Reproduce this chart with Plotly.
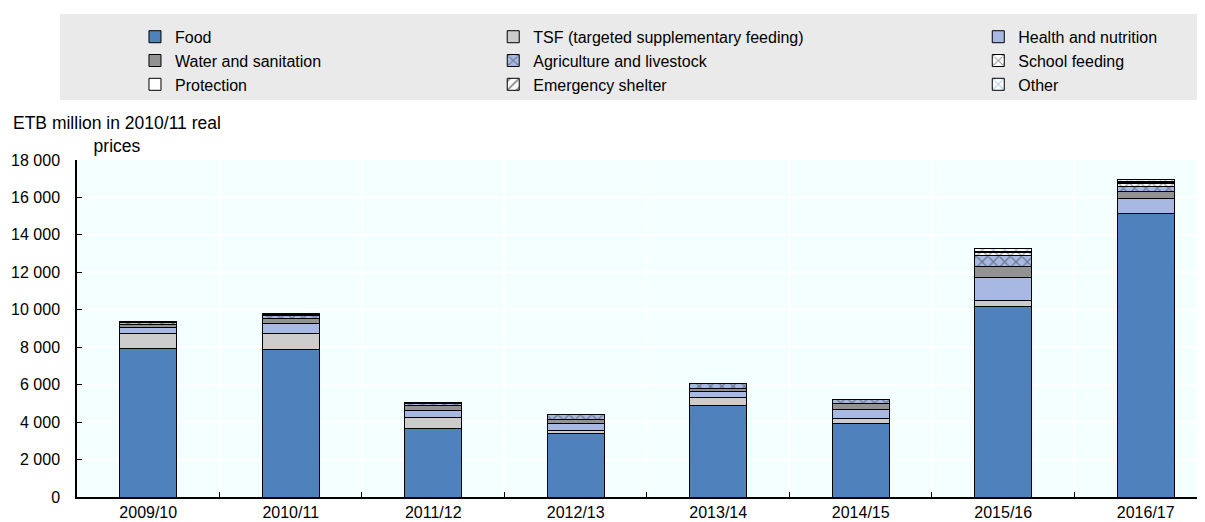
import plotly.graph_objects as go

years = ["2009/10", "2010/11", "2011/12", "2012/13", "2013/14", "2014/15", "2015/16", "2016/17"]
food = [7940, 7890, 3670, 3370, 4880, 3940, 10190, 15120]
tsf = [770, 855, 590, 200, 450, 270, 300, 40]
health = [355, 500, 350, 340, 300, 440, 1210, 760]
water = [150, 300, 270, 210, 180, 320, 620, 390]
agriculture = [100, 150, 100, 280, 230, 250, 600, 300]
school = [20, 40, 40, 0, 0, 0, 150, 160]
protection = [5, 10, 10, 0, 0, 0, 20, 30]
shelter = [5, 10, 20, 0, 0, 0, 30, 40]
other = [15, 20, 20, 30, 10, 10, 130, 130]

FONT = "Liberation Sans, Arial, sans-serif"

series = [
    ("Food", food, "#4F81BD", None, None, "legend"),
    ("TSF (targeted supplementary feeding)", tsf, "#CCCCCC", None, None, "legend2"),
    ("Health and nutrition", health, "#A7B9E3", None, None, "legend3"),
    ("Water and sanitation", water, "#929292", None, None, "legend"),
    ("Agriculture and livestock", agriculture, "#A7B9E3", "x", "#333333", "legend2"),
    ("School feeding", school, "#FFFFFF", "x", "#333333", "legend3"),
    ("Protection", protection, "#FFFFFF", None, None, "legend"),
    ("Emergency shelter", shelter, "#FFFFFF", "/", "#222222", "legend2"),
    ("Other", other, "#FFFFFF", "x", "#5B9BD5", "legend3"),
]

fig = go.Figure()
for name, vals, color, shape, fg, leg in series:
    marker = dict(color=color, line=dict(color="#000000", width=1))
    if shape:
        marker["pattern"] = dict(shape=shape, bgcolor=color, fgcolor=fg, size=8, solidity=0.3)
    fig.add_trace(go.Bar(x=years, y=vals, name=name, marker=marker, legend=leg))

# legend background band
fig.add_shape(type="rect", xref="paper", yref="paper", x0=-0.015, x1=1.0,
              y0=1.178, y1=1.433, fillcolor="#EAEAEA", line=dict(width=0), layer="below")

leg_common = dict(orientation="v", yanchor="top", y=1.416, xanchor="left",
                  bgcolor="rgba(0,0,0,0)", font=dict(family=FONT, size=16, color="#000000"),
                  traceorder="normal", itemwidth=30)
fig.update_layout(
    legend=dict(x=0.0514, **leg_common),
    legend2=dict(x=0.369, **leg_common),
    legend3=dict(x=0.799, **leg_common),
)

fig.add_annotation(text="ETB million in 2010/11 real<br>prices", xref="paper", yref="paper",
                   x=(117 - 77) / 1128, y=(497 - 134) / 337, xanchor="center", yanchor="middle",
                   showarrow=False, align="center", font=dict(family=FONT, size=17.5, color="#000000"))

fig.update_layout(
    width=1197, height=514,
    margin=dict(l=69, r=0, t=152, b=25),
    barmode="stack", bargap=0.6,
    paper_bgcolor="#FFFFFF", plot_bgcolor="#F4FFFF",
    separators=". ",
    font=dict(family=FONT, size=16, color="#000000"),
    xaxis=dict(range=[-0.5, 7.416], tickson="boundaries", ticks="inside", ticklen=5,
               tickcolor="#000000", showline=True, linecolor="#000000", linewidth=1.5,
               showgrid=True, gridcolor="#FFFFFF", gridwidth=1.5,
               tickfont=dict(family=FONT, size=16, color="#000000")),
    yaxis=dict(range=[0, 18000], dtick=2000, tickformat=",d", ticks="inside", ticklen=5,
               tickcolor="#000000", showline=True, linecolor="#000000", linewidth=1.5,
               showgrid=True, gridcolor="#FFFFFF", gridwidth=1.5, zeroline=False,
               ticklabelstandoff=12,
               tickfont=dict(family=FONT, size=16, color="#000000")),
)

fig.write_html("out.html")
